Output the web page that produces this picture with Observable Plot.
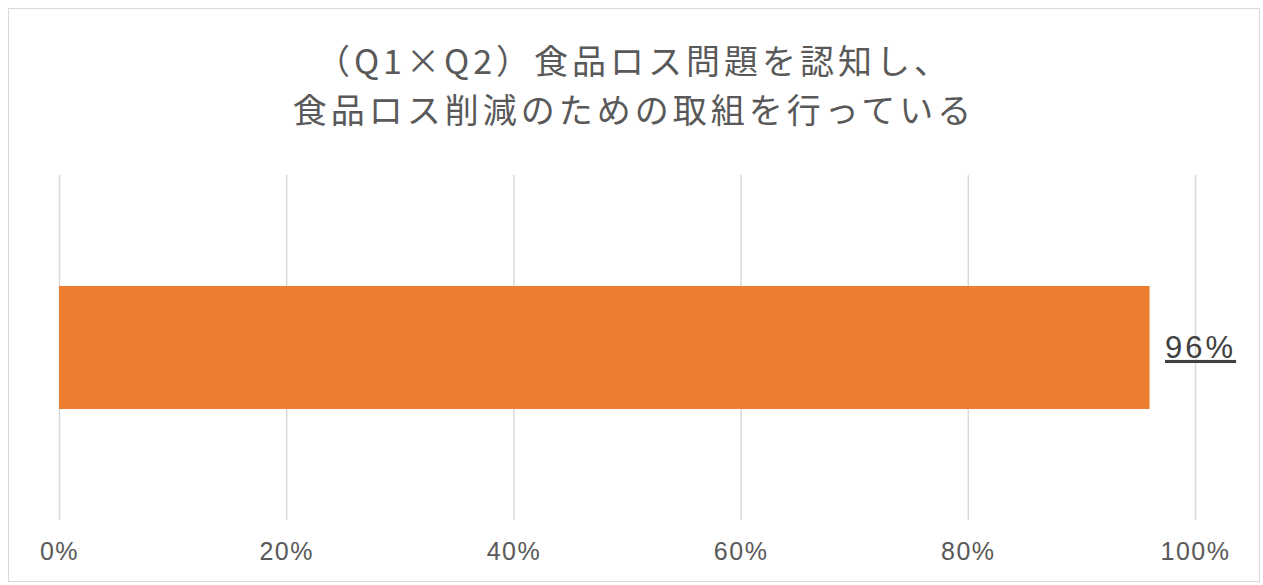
<!DOCTYPE html>
<html><head><meta charset="utf-8">
<script src="https://cdn.jsdelivr.net/npm/d3@7"></script>
<script src="https://cdn.jsdelivr.net/npm/@observablehq/plot@0.6"></script>
<style>
body{margin:0;background:#fff;}
#frame{position:absolute;left:8px;top:8px;width:1252px;height:574px;border:1.5px solid #d9d9d9;box-sizing:border-box;overflow:hidden;}
#title{height:161px;box-sizing:border-box;padding-top:26px;text-align:center;color:#595959;font-family:"Noto Sans CJK JP","Noto Sans",sans-serif;font-size:34px;line-height:49px;letter-spacing:4px;}
</style></head>
<body>
<div id="frame"><div id="title"><div>（Q1×Q2）食品ロス問題を認知し、</div><div>食品ロス削減のための取組を行っている</div></div><div id="chart"></div></div>
<script>
const categories = ["食品ロス削減のための取組を行っている"];
const values = [0.96];
const tickValues = [0, 0.2, 0.4, 0.6, 0.8, 1.0];
const tickLabels = ["0%", "20%", "40%", "60%", "80%", "100%"];
const data = categories.map((c, i) => ({category: c, value: values[i]}));

const chart = Plot.plot({
  width: 1249,
  height: 410,
  marginLeft: 50,
  marginRight: 63,
  marginTop: 5,
  marginBottom: 60,
  style: {fontFamily: "'Liberation Sans', Arial, sans-serif", background: "#fff", overflow: "visible"},
  x: {domain: [0, 1], ticks: tickValues, tickFormat: (d) => tickLabels[tickValues.indexOf(d)] ?? "", label: null},
  y: {domain: categories, padding: 0.474, axis: null, label: null},
  marks: [
    Plot.ruleX(tickValues, {stroke: "#d9d9d9", strokeWidth: 1.5}),
    Plot.axisX({ticks: tickValues, tickFormat: (d) => tickLabels[tickValues.indexOf(d)], tickSize: 0, tickPadding: 22, fontSize: 25, fill: "#595959", label: null}),
    Plot.barX(data, {x: "value", y: "category", fill: "#ED7D31"}),
    Plot.text(data, {x: "value", y: "category", text: (d) => Math.round(d.value * 100) + "%", textAnchor: "start", dx: 15, fontSize: 31, fill: "#404040"})
  ]
});
document.getElementById("chart").appendChild(chart);
d3.select(chart).selectAll('g[aria-label="x-axis tick label"] text').style("letter-spacing", "1.5px");
d3.select(chart).selectAll('g[aria-label="text"] text').style("text-decoration", "underline").style("letter-spacing", "3px");
</script>
</body></html>
